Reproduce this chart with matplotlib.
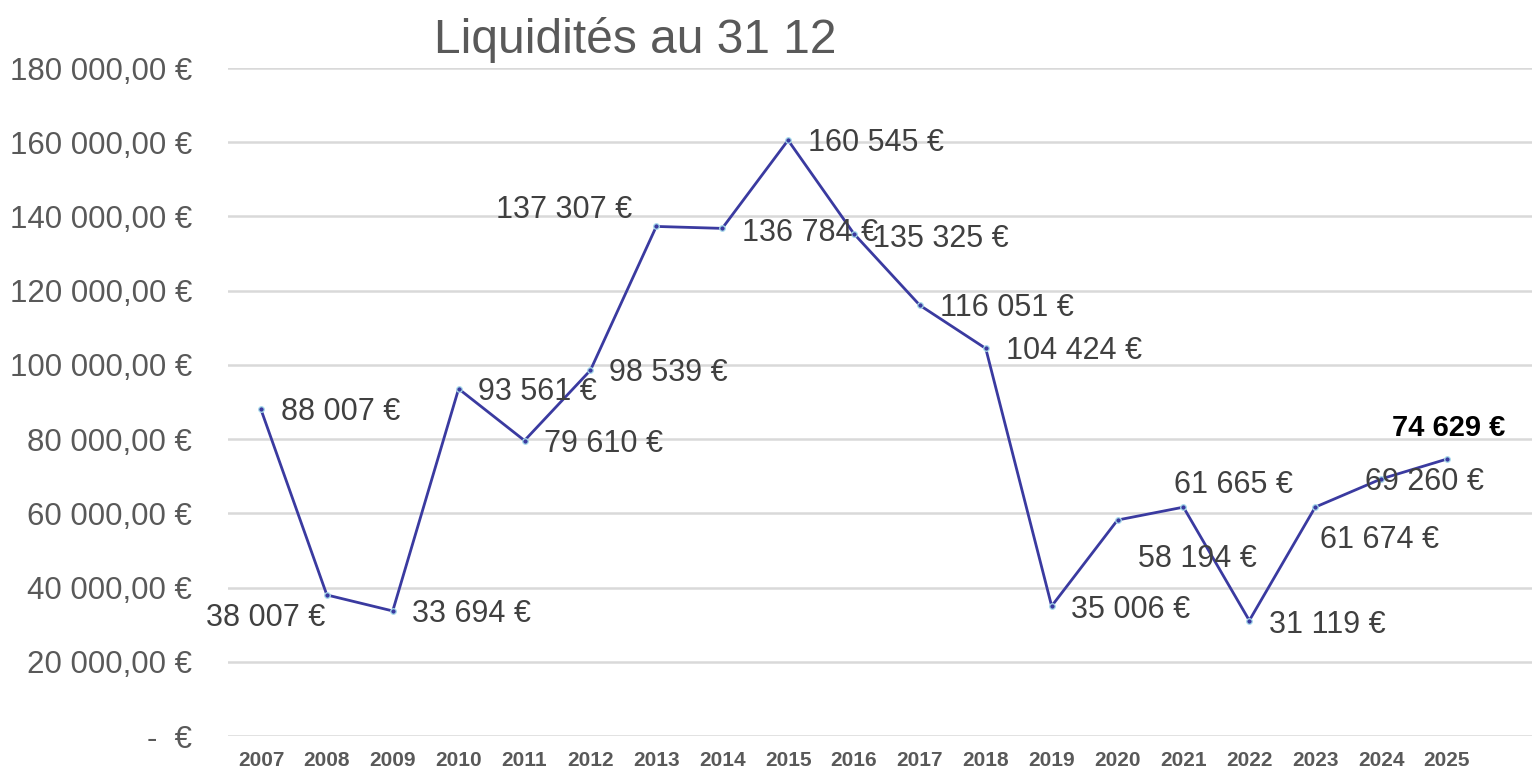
import matplotlib
matplotlib.use("Agg")
import matplotlib.pyplot as plt
from matplotlib.ticker import FixedLocator

plt.rcParams['font.family'] = ['Liberation Sans', 'DejaVu Sans']

# ---- data ----
years = ["2007", "2008", "2009", "2010", "2011", "2012", "2013", "2014", "2015", "2016",
         "2017", "2018", "2019", "2020", "2021", "2022", "2023", "2024", "2025"]
liquidites = [88007, 38007, 33694, 93561, 79610, 98539, 137307, 136784, 160545, 135325,
              116051, 104424, 35006, 58194, 61665, 31119, 61674, 69260, 74629]
y_ticks = [0, 20000, 40000, 60000, 80000, 100000, 120000, 140000, 160000, 180000]
title = "Liquidités au 31 12"

# label placement (pixel offsets from point, horizontal alignment)
label_offsets = [(20, -3, 'left'), (-2, -23, 'right'), (19, -3, 'left'), (19, -3, 'left'),
                 (19, -3, 'left'), (19, -3, 'left'), (-24, 16, 'right'), (20, -5, 'left'),
                 (20, -3, 'left'), (19, -5, 'left'), (20, -3, 'left'), (20, -3, 'left'),
                 (19, -4, 'left'), (20, -39, 'left'), (-9, 22, 'left'), (20, -4, 'left'),
                 (5, -33, 'left'), (-16, -3, 'left'), (2, 31, 'center')]


def fmt_eur(v):
    return f"{v:,.0f}".replace(",", " ") + " €"


def fmt_tick(v):
    if v == 0:
        return "-  €"
    return f"{v:,.2f}".replace(",", " ").replace(".", ",") + " €"


fig = plt.figure(figsize=(15.32, 7.70), dpi=100)
ax = fig.add_axes([228 / 1532, 34 / 770, 1 - 228 / 1532, 668 / 770])

x = list(range(len(years)))
line_color = '#3A3AA0'
ax.plot(x, liquidites, color=line_color, lw=2.0, marker='o', markersize=4,
        markerfacecolor=line_color, markeredgecolor='#A8DCEB', markeredgewidth=0.9,
        zorder=3)

ax.set_ylim(0, 180000)
ax.set_xlim(-0.5, 19.29)
ax.yaxis.set_major_locator(FixedLocator(y_ticks))
ax.set_yticklabels([fmt_tick(v) for v in y_ticks], fontsize=22.5, color='#595959')
ax.set_xticks(x)
ax.set_xticklabels(years, fontsize=15, fontweight='bold', color='#595959')
ax.tick_params(axis='y', length=0, pad=26)
ax.tick_params(axis='x', length=0, pad=11)
ax.grid(axis='y', color='#D9D9D9', lw=1.8, zorder=0)
ax.set_axisbelow(True)
for s in ax.spines.values():
    s.set_visible(False)

for i, v in enumerate(liquidites):
    dx, dy, ha = label_offsets[i]
    last = i == len(liquidites) - 1
    ax.annotate(fmt_eur(v), (x[i], v), xytext=(dx, dy), textcoords='offset pixels',
                ha=ha, va='center', fontsize=21 if last else 22,
                fontweight='bold' if last else 'normal',
                color='black' if last else '#404040', zorder=4, annotation_clip=False)

fig.text(635 / 1532, 1 - 40 / 770, title, ha='center', va='center', fontsize=34.5,
         color='#595959')

fig.savefig('out.png', dpi=100)
